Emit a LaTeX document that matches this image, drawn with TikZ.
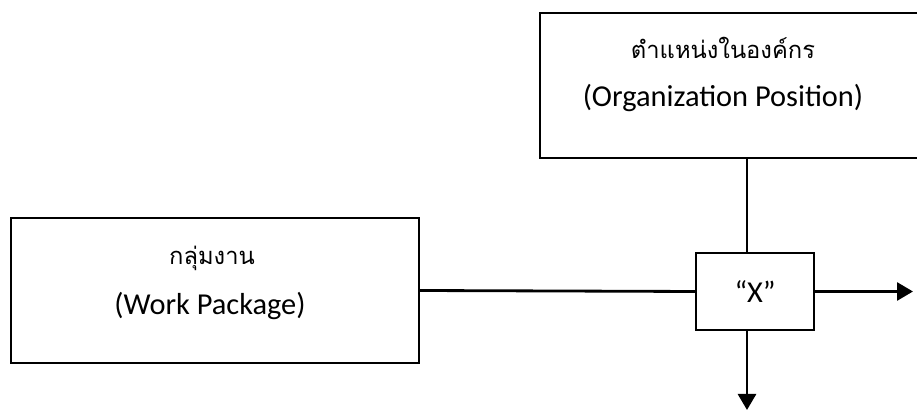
\documentclass[tikz,border=0pt]{standalone}
\usepackage{fontspec}
\setmainfont{Carlito}
\newfontfamily\thaifont[Script=Thai]{Loma}
\usetikzlibrary{arrows.meta, positioning}

\begin{document}
\begin{tikzpicture}[x=0.02cm, y=-0.02cm, font=\fontsize{17.3}{20}\selectfont,
        box/.style={draw, line width=1.1pt, inner sep=0pt},
        link/.style={line width=1.6pt},
        flow/.style={link, -{Triangle[length=0.32cm, width=0.36cm]}},
        thaitext/.style={font=\thaifont\fontsize{13.5}{20}\selectfont}]
        \useasboundingbox (0,0) rectangle (917,411);
        \clip (0,0) rectangle (917,411);

        % boxes
        \node[box, minimum width=8.16cm, minimum height=2.9cm] (wp) at (215,290.5) {};
        \node[box, minimum width=8.4cm, minimum height=2.9cm] (op) at (750,85.5) {};
        \node[box, minimum width=2.36cm, minimum height=1.54cm] (xbox) at (755,291.5) {``X''};

        % texts
        \node[thaitext] (wpthai) at (212,258) {กลุ่มงาน};
        \node (wpeng) at (210,306) {(Work Package)};
        \node[thaitext] (opthai) at (723,48) {ตำแหน่งในองค์กร};
        \node (openg) at (723,98) {(Organization Position)};

        % connectors
        \coordinate (opfoot) at ([xshift=-0.16cm]xbox.north |- op.south);
        \coordinate (xtop) at ([xshift=-0.16cm]xbox.north);
        \coordinate (xbot) at ([xshift=-0.16cm]xbox.south);
        \coordinate (rightend) at (913,291.5);
        \coordinate (downend) at (xbot |- 0,410);

        \draw[link] (wp.east) -- (xbox.west);
        \draw[link] (opfoot) -- (xtop);
        \draw[flow] (xbox.east) -- (rightend);
        \draw[flow] (xbot) -- (downend);
\end{tikzpicture}
\end{document}
